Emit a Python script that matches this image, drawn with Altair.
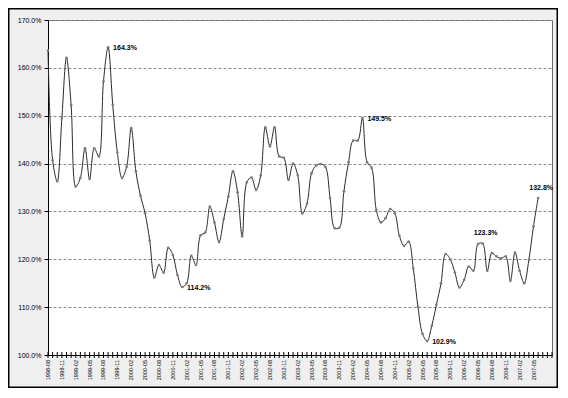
import altair as alt
import pandas as pd

# ---- data ----
values = [
    163.6, 140.7, 136.3, 149.5, 162.1, 152.2, 135.2, 137.0, 143.2, 136.8,
    143.2, 141.5, 157.2, 164.3, 152.3, 142.3, 137.0, 139.3, 147.4, 138.4,
    133.3, 129.6, 123.9, 116.2, 118.8, 117.2, 122.4, 120.9, 116.7, 114.2,
    115.0, 120.7, 118.8, 125.0, 125.6, 131.0, 127.7, 123.6, 128.4, 133.1,
    138.4, 134.0, 124.8, 136.1, 137.1, 134.5, 137.5, 147.6, 143.6, 147.6,
    141.5, 141.2, 136.6, 140.0, 137.6, 129.6, 131.6, 138.0, 139.6, 139.9,
    139.3, 132.8, 126.5, 126.6, 134.2, 140.3, 144.8, 144.8, 149.5, 140.3,
    139.1, 130.3, 127.7, 128.6, 130.5, 129.6, 124.9, 122.8, 123.7, 118.1,
    110.1, 104.4, 102.9, 106.1, 110.5, 115.0, 121.1, 120.0, 117.2, 114.1,
    115.7, 118.5, 117.6, 123.2, 123.3, 117.6, 121.3, 120.6, 120.2, 120.6,
    115.5, 121.4, 117.6, 115.0, 119.9, 126.9, 132.8,
]
x_tick_labels = [
    "1998-08", "1998-11", "1999-02", "1999-05", "1999-08", "1999-11",
    "2000-02", "2000-05", "2000-08", "2000-11", "2001-02", "2001-05",
    "2001-08", "2001-11", "2002-02", "2002-05", "2002-08", "2002-11",
    "2003-02", "2003-05", "2003-08", "2003-11", "2004-02", "2004-05",
    "2004-08", "2004-11", "2005-02", "2005-05", "2005-08", "2005-11",
    "2006-02", "2006-05", "2006-08", "2006-11", "2007-02", "2007-05",
]
y_ticks = [100, 110, 120, 130, 140, 150, 160, 170]
labels_right = [13, 29, 68, 82]     # annotated points, label to the right
labels_above = [94, 106]            # annotated points, label above
n_slots = 110                        # monthly category slots on the axis
label_step = 3                       # one axis label every 3 months

W, H = 504, 335
FONT = "Liberation Sans"

df = pd.DataFrame({"i": list(range(len(values))), "v": values})
df_right = df[df["i"].isin(labels_right)]
df_above = df[df["i"].isin(labels_above)]
df_slots = pd.DataFrame({"i": list(range(n_slots))})
df_xlab = pd.DataFrame({
    "i": [k * label_step for k in range(len(x_tick_labels))],
    "t": x_tick_labels,
})

xscale = alt.Scale(domain=[0, n_slots - 1], nice=False, zero=False)
yscale = alt.Scale(domain=[100, 170], nice=False, zero=False)

x_axis = alt.Axis(
    values=[0],
    labels=False,
    ticks=False,
    grid=False,
    domainColor="black",
    domainWidth=1,
    title=None,
)
y_axis = alt.Axis(
    values=y_ticks,
    labelExpr="format(datum.value, '.1f') + '%'",
    labelFontSize=7,
    labelFont=FONT,
    labelColor="black",
    labelPadding=3,
    tickSize=4,
    tickColor="black",
    domainColor="black",
    domainWidth=1,
    grid=True,
    gridColor="#8a8a8a",
    gridDash=[3, 2],
    gridWidth=1,
    title=None,
)

base = alt.Chart(df)

frame = alt.Chart(pd.DataFrame({"a": [0]})).mark_rect(
    fill="#ffffff", fillOpacity=0, stroke="black", strokeWidth=1.5
).encode(
    x=alt.value(-39.25), x2=alt.value(W + 5.25),
    y=alt.value(-11.25), y2=alt.value(H + 32.25),
)

line = base.mark_line(
    color="#2a2a2a", strokeWidth=1, interpolate="catmull-rom"
).encode(
    x=alt.X("i:Q", scale=xscale, axis=x_axis),
    y=alt.Y("v:Q", scale=yscale, axis=y_axis),
)

points = base.mark_point(
    filled=True, color="#7a7a7a", size=7, opacity=1
).encode(
    x=alt.X("i:Q", scale=xscale),
    y=alt.Y("v:Q", scale=yscale),
)

ticks = alt.Chart(df_slots).mark_rule(color="black", strokeWidth=1).encode(
    x=alt.X("i:Q", scale=xscale),
    y=alt.value(H - 3),
    y2=alt.value(H + 3),
)

xlabels = alt.Chart(df_xlab).mark_text(
    angle=270, align="right", baseline="middle", dy=0,
    font=FONT, fontSize=5.5, color="black",
).encode(
    x=alt.X("i:Q", scale=xscale),
    y=alt.value(H + 5),
    text="t:N",
)

text_right = alt.Chart(df_right).mark_text(
    align="left", baseline="middle", dx=5, dy=1,
    font=FONT, fontSize=7, fontWeight="bold", color="black",
).transform_calculate(
    lbl="format(datum.v, '.1f') + '%'"
).encode(
    x=alt.X("i:Q", scale=xscale),
    y=alt.Y("v:Q", scale=yscale),
    text="lbl:N",
)

text_above = alt.Chart(df_above).mark_text(
    align="center", baseline="middle", dx=3, dy=-10,
    font=FONT, fontSize=7, fontWeight="bold", color="black",
).transform_calculate(
    lbl="format(datum.v, '.1f') + '%'"
).encode(
    x=alt.X("i:Q", scale=xscale),
    y=alt.Y("v:Q", scale=yscale),
    text="lbl:N",
)

chart = alt.layer(
    frame, line, ticks, points, xlabels, text_right, text_above
).properties(
    width=W,
    height=H,
    padding={"left": 40, "top": 12, "right": 6, "bottom": 33},
    autosize=alt.AutoSizeParams(type="none"),
    background="#efefef",
).configure_view(
    fill="white", stroke="#6a6a6a", strokeWidth=1
)

chart.save("out.html", embed_options={"renderer": "svg", "actions": False})
